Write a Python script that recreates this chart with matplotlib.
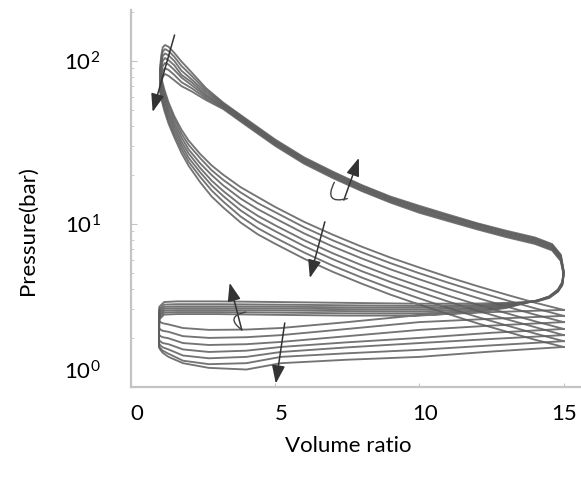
import matplotlib.pyplot as plt
from matplotlib.transforms import ScaledTranslation

plt.rcParams['font.family'] = ['Lato', 'DejaVu Sans']
plt.rcParams['mathtext.fontset'] = 'custom'
plt.rcParams['mathtext.rm'] = 'Lato'

# --- data: 7 cycles, k = 0 .. 6 ---
# compression stroke (BDC -> TDC)
comp_v = [15, 14, 13, 12, 11, 10, 9, 8, 7, 6, 5, 4.4, 3.8, 3.2, 2.8, 2.4, 2.0, 1.75, 1.5, 1.3,
          1.15, 1.05, 1.0]
comp_p = [
    [2.97, 3.29, 3.69, 4.16, 4.72, 5.4, 6.21, 7.25, 8.58, 10.3, 12.7, 14.6, 16.8, 20.0, 22.8,
     26.8, 32.4, 37.8, 45.8, 55.7, 67.3, 78.9, 88.2],
    [2.73, 3.04, 3.41, 3.84, 4.36, 4.98, 5.74, 6.7, 7.92, 9.54, 11.8, 13.4, 15.6, 18.6, 21.3,
     25.3, 30.5, 35.8, 43.8, 53.3, 64.4, 75.5, 84.4],
    [2.5, 2.78, 3.12, 3.52, 3.99, 4.57, 5.26, 6.14, 7.26, 8.75, 10.8, 12.3, 14.3, 17.2, 19.9,
     23.5, 28.6, 33.9, 41.5, 50.4, 60.9, 71.4, 79.8],
    [2.27, 2.53, 2.84, 3.2, 3.63, 4.15, 4.78, 5.58, 6.6, 7.95, 9.8, 11.2, 13.1, 15.9, 18.4,
     22.0, 27.0, 32.0, 39.5, 48.0, 58.0, 68.0, 76.0],
    [2.08, 2.33, 2.61, 2.94, 3.34, 3.82, 4.4, 5.13, 6.07, 7.31, 9.02, 10.3, 12.1, 14.8, 17.2,
     20.7, 25.4, 30.4, 37.5, 45.6, 55.1, 64.6, 72.2],
    [1.91, 2.13, 2.39, 2.69, 3.05, 3.49, 4.02, 4.69, 5.54, 6.68, 8.23, 9.41, 11.1, 13.7, 16.0,
     19.4, 24.0, 28.8, 35.6, 43.2, 52.2, 61.2, 68.4],
    [1.76, 1.95, 2.19, 2.46, 2.8, 3.2, 3.68, 4.3, 5.08, 6.12, 7.55, 8.62, 10.2, 12.6, 14.7,
     18.0, 22.7, 27.2, 34.0, 41.3, 49.9, 58.5, 65.4],
]

# combustion + expansion + blowdown turn
exp_v = [1.05, 1.1, 1.18, 1.3, 1.5, 1.75, 2.1, 2.6, 3.2, 4, 5, 6, 7, 8, 9, 10, 11, 12,
         13, 14, 14.6, 14.9, 15.0, 14.95, 14.8, 14.5, 14.1]
exp_p = [
    [108, 121, 125, 122, 112, 99, 85, 68, 55.4, 43.9, 32.9, 25.6, 20.9, 17.3, 14.7, 12.9, 11.4,
     10.1, 9.09, 8.26, 7.52, 6.48, 5.15, 4.4, 3.96, 3.6, 3.4],
    [102, 114, 118, 115, 106, 93, 81, 66, 54.6, 43.3, 32.4, 25.2, 20.6, 17.1, 14.5, 12.7, 11.2,
     9.99, 8.96, 8.14, 7.42, 6.39, 5.1, 4.37, 3.94, 3.58, 3.4],
    [96, 107, 111, 108, 100, 87, 77, 64, 53.8, 42.6, 32.0, 24.9, 20.3, 16.8, 14.3, 12.5, 11.1,
     9.85, 8.83, 8.02, 7.31, 6.29, 5.05, 4.33, 3.92, 3.57, 3.39],
    [90, 100, 104, 101, 94, 82, 74, 62, 53, 42, 31.5, 24.5, 20, 16.6, 14.1, 12.3, 10.9,
     9.7, 8.7, 7.9, 7.2, 6.2, 5.0, 4.3, 3.9, 3.56, 3.38],
    [84, 93, 97, 95, 88, 79, 71, 60.5, 52.2, 41.4, 31.0, 24.1, 19.7, 16.4, 13.9, 12.1, 10.7,
     9.55, 8.57, 7.78, 7.09, 6.11, 4.95, 4.27, 3.88, 3.55, 3.38],
    [78, 87, 90, 88, 82, 74, 68, 59, 51.4, 40.7, 30.6, 23.8, 19.4, 16.1, 13.7, 11.9, 10.6,
     9.41, 8.44, 7.66, 6.98, 6.01, 4.9, 4.23, 3.86, 3.53, 3.37],
    [73, 80, 83, 81, 76, 70, 65, 57.5, 50.6, 40.1, 30.1, 23.4, 19.1, 15.9, 13.5, 11.7, 10.4,
     9.26, 8.31, 7.54, 6.88, 5.92, 4.85, 4.2, 3.84, 3.52, 3.36],
]

# exhaust stroke
exh_v = [13.6, 13, 12, 10, 7.5, 5, 3, 1.6, 1.15, 0.98]
exh_p = [
    [3.25, 3.05, 2.88, 2.74, 2.74, 2.77, 2.8, 2.8, 2.78, 2.6],
    [3.26, 3.08, 2.94, 2.82, 2.83, 2.86, 2.88, 2.88, 2.86, 2.68],
    [3.27, 3.12, 3.0, 2.9, 2.92, 2.95, 2.96, 2.96, 2.94, 2.76],
    [3.28, 3.16, 3.06, 2.98, 3.0, 3.03, 3.04, 3.04, 3.02, 2.84],
    [3.29, 3.2, 3.12, 3.06, 3.08, 3.11, 3.12, 3.12, 3.1, 2.92],
    [3.3, 3.24, 3.18, 3.14, 3.17, 3.2, 3.22, 3.22, 3.2, 3.0],
    [3.31, 3.28, 3.25, 3.24, 3.28, 3.32, 3.35, 3.35, 3.32, 3.1],
]

# intake stroke
int_v = [0.97, 1.02, 1.1, 1.3, 1.8, 2.7, 4.0, 5.2, 7.5, 10, 12.5, 15]
int_p = [
    [2.55, 2.5, 2.46, 2.42, 2.3, 2.24, 2.25, 2.3, 2.5, 2.76, 2.88, 2.97],
    [2.3, 2.25, 2.21, 2.18, 2.05, 2.0, 2.02, 2.08, 2.27, 2.5, 2.62, 2.73],
    [2.1, 2.05, 2.02, 1.99, 1.86, 1.81, 1.83, 1.89, 2.05, 2.24, 2.38, 2.5],
    [1.95, 1.9, 1.86, 1.83, 1.7, 1.64, 1.67, 1.76, 1.88, 2.0, 2.15, 2.27],
    [1.85, 1.8, 1.75, 1.7, 1.56, 1.5, 1.53, 1.64, 1.75, 1.86, 1.97, 2.08],
    [1.78, 1.72, 1.67, 1.6, 1.45, 1.38, 1.40, 1.53, 1.61, 1.69, 1.8, 1.91],
    [1.75, 1.69, 1.62, 1.53, 1.40, 1.31, 1.28, 1.40, 1.47, 1.53, 1.65, 1.76],
]

# trend arrows (tail, head) and the little loops at their tails
arrows = [((1.51, 144), (0.75, 48.6)),
          ((7.38, 14.0), (7.9, 25.4)),
          ((6.72, 10.3), (6.2, 4.66)),
          ((3.84, 2.24), (3.42, 4.35)),
          ((5.33, 2.47), (5.02, 1.05))]
loops = [((7.5, 14.3), (7.05, 18.0)),
         ((3.84, 2.24), (3.98, 2.88))]

x_ticks = [0, 5, 10, 15]
y_ticks = [1, 10, 100]

fig = plt.figure(figsize=(5.81, 4.8), dpi=100)
ax = fig.add_axes([131 / 581, 93 / 480, 450 / 581, 377 / 480])

for k in range(len(comp_p)):
    v = comp_v + exp_v + exh_v + int_v
    p = comp_p[k] + exp_p[k] + exh_p[k] + int_p[k]
    ax.plot(v, p, color='#5c5c5c', lw=1.35, alpha=0.85, solid_joinstyle='round')

for tail, head in arrows:
    ax.annotate('', xy=head, xytext=tail,
                arrowprops=dict(arrowstyle='-|>,head_length=1.1,head_width=0.4',
                                color='#333333', lw=1.1, shrinkA=0, shrinkB=0))
for a, b in loops:
    ax.annotate('', xy=b, xytext=a,
                arrowprops=dict(arrowstyle='-', connectionstyle='arc3,rad=-1.1',
                                color='#444444', lw=1.0, shrinkA=0, shrinkB=0))

ax.set_yscale('log')
ax.set_xlim(0, 15.6)
ax.set_ylim(1, 205)

for side in ['top', 'right']:
    ax.spines[side].set_visible(False)
for side in ['left', 'bottom']:
    ax.spines[side].set_color('#c4c4c4')
    ax.spines[side].set_linewidth(1.6)

ax.set_xticks(x_ticks)
ax.set_xticklabels([str(t) for t in x_ticks])
ax.set_yticks(y_ticks)
ax.set_yticklabels(['', r'$\mathregular{10^1}$', r'$\mathregular{10^2}$'])
ax.annotate(r'$\mathregular{10^0}$', xy=(0, 1), xycoords=('axes fraction', 'data'),
            xytext=(-22, 11), textcoords='offset points', ha='right', va='center',
            fontsize=16)
ax.tick_params(axis='both', which='both', direction='in', color='#c4c4c4', labelsize=16)
ax.tick_params(axis='y', which='major', length=4, pad=22)
ax.tick_params(axis='y', which='minor', length=2.5)
ax.tick_params(axis='x', which='major', length=3, pad=12)

# the x labels sit a little right of their ticks in the original (15 stays put,
# it would run off the edge)
shift = ScaledTranslation(6 / 100, 0, fig.dpi_scale_trans)
for t in ax.xaxis.get_major_ticks()[:3]:
    t.label1.set_transform(t.label1.get_transform() + shift)

fig.text(28 / 581, 1 - 231 / 480, 'Pressure(bar)', rotation=90, ha='center', va='center',
         fontsize=16)
fig.text(348 / 581, 1 - 446 / 480, 'Volume ratio', ha='center', va='center', fontsize=16)

fig.savefig('out.png', dpi=100)
